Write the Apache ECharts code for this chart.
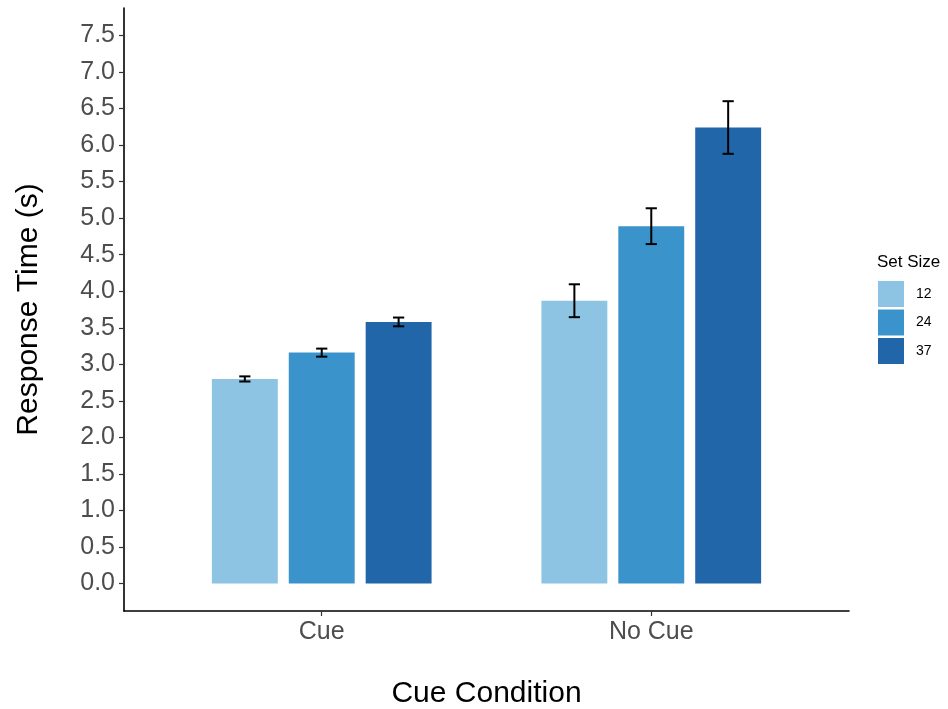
<!DOCTYPE html>
<html>
<head>
<meta charset="utf-8">
<title>Response Time by Cue Condition and Set Size</title>
<script src="https://cdn.jsdelivr.net/npm/echarts@6/dist/echarts.min.js"></script>
<style>
  html, body { margin: 0; padding: 0; background: #ffffff; }
  #chart { width: 948px; height: 709px; }
</style>
</head>
<body>
<div id="chart"></div>
<script>
// Cue conditions along the x axis (placed at positions 1 and 2)
const conditions = ['Cue', 'No Cue'];
// Set sizes shown as dodged bars within each condition
const setSizes = ['12', '24', '37'];
// Mean response time (s) per set size, one value per condition
const mean12 = [2.80, 3.87];
const mean24 = [3.16, 4.89];
const mean37 = [3.58, 6.24];
// Standard error per set size, one value per condition
const se12 = [0.035, 0.225];
const se24 = [0.055, 0.245];
const se37 = [0.06, 0.36];
// Y axis tick values
const yTicks = [0, 0.5, 1, 1.5, 2, 2.5, 3, 3.5, 4, 4.5, 5, 5.5, 6, 6.5, 7, 7.5];

const colors = ['#8ec4e3', '#3a94cb', '#2166a9'];
const means = [mean12, mean24, mean37];
const ses = [se12, se24, se37];

const DODGE = 0.7;     // total dodge width per condition
const BAR_W = 0.2;     // width of each bar in axis units
const CAP_W = 0.034;   // width of error-bar caps in axis units

// Draws one bar with its error bar, dodged by series index
function renderItem(params, api) {
  const cat = api.value(0);
  const m = api.value(1);
  const s = api.value(2);
  const k = params.seriesIndex;
  const x = cat + (k - 1) * DODGE / 3;
  const tl = api.coord([x - BAR_W / 2, m]);
  const br = api.coord([x + BAR_W / 2, 0]);
  const hi = api.coord([x, m + s]);
  const lo = api.coord([x, m - s]);
  const capL = api.coord([x - CAP_W / 2, 0])[0];
  const capR = api.coord([x + CAP_W / 2, 0])[0];
  const lineStyle = { stroke: '#000000', lineWidth: 2 };
  return {
    type: 'group',
    children: [
      {
        type: 'rect',
        shape: { x: tl[0], y: tl[1], width: br[0] - tl[0], height: br[1] - tl[1] },
        style: { fill: api.visual('color') }
      },
      { type: 'line', z2: 10, shape: { x1: hi[0], y1: hi[1], x2: lo[0], y2: lo[1] }, style: lineStyle },
      { type: 'line', z2: 10, shape: { x1: capL, y1: hi[1], x2: capR, y2: hi[1] }, style: lineStyle },
      { type: 'line', z2: 10, shape: { x1: capL, y1: lo[1], x2: capR, y2: lo[1] }, style: lineStyle }
    ]
  };
}

const series = setSizes.map((name, k) => ({
  name: name,
  type: 'custom',
  renderItem: renderItem,
  itemStyle: { color: colors[k] },
  encode: { x: 0, y: 1 },
  data: conditions.map((c, i) => [i + 1, means[k][i], ses[k][i]])
}));

const FONT = 'Liberation Sans, Arial, Helvetica, sans-serif';

const chart = echarts.init(document.getElementById('chart'), null, { renderer: 'canvas' });
chart.setOption({
  animation: false,
  backgroundColor: '#ffffff',
  title: {
    text: 'Set Size',
    left: 877,
    top: 254,
    textStyle: { fontFamily: FONT, fontSize: 17, fontWeight: 'normal', color: '#000000' },
    padding: 0
  },
  legend: {
    orient: 'vertical',
    left: 878,
    top: 281,
    itemWidth: 26,
    itemHeight: 26,
    itemGap: 2.5,
    icon: 'rect',
    padding: 0,
    data: setSizes,
    textStyle: { fontFamily: FONT, fontSize: 14, color: '#000000', padding: [0, 0, 0, 7] }
  },
  grid: { left: 124, right: 99, top: 8, bottom: 98, containLabel: false, outerBoundsMode: 'none' },
  xAxis: {
    type: 'value',
    min: 0.4,
    max: 2.6,
    name: 'Cue Condition',
    nameLocation: 'middle',
    nameGap: 68,
    nameTextStyle: { fontFamily: FONT, fontSize: 30, color: '#000000' },
    axisLine: { show: true, onZero: false, lineStyle: { color: '#000000', width: 1.6 } },
    axisTick: { show: true, customValues: [1, 2], length: 5, lineStyle: { color: '#333333', width: 1.2 } },
    axisLabel: {
      customValues: [1, 2],
      formatter: v => conditions[Math.round(v) - 1],
      fontFamily: FONT, fontSize: 25, color: '#4d4d4d', margin: 9
    },
    splitLine: { show: false }
  },
  yAxis: {
    type: 'value',
    min: -0.375,
    max: 7.875,
    name: 'Response Time (s)',
    nameLocation: 'middle',
    nameGap: 80,
    nameTextStyle: { fontFamily: FONT, fontSize: 30, color: '#000000' },
    axisLine: { show: true, onZero: false, lineStyle: { color: '#000000', width: 1.6 } },
    axisTick: { show: true, customValues: yTicks, length: 5, lineStyle: { color: '#333333', width: 1.2 } },
    axisLabel: {
      customValues: yTicks,
      formatter: v => v.toFixed(1),
      fontFamily: FONT, fontSize: 25, color: '#4d4d4d', margin: 9
    },
    splitLine: { show: false }
  },
  series: series
});
</script>
</body>
</html>
